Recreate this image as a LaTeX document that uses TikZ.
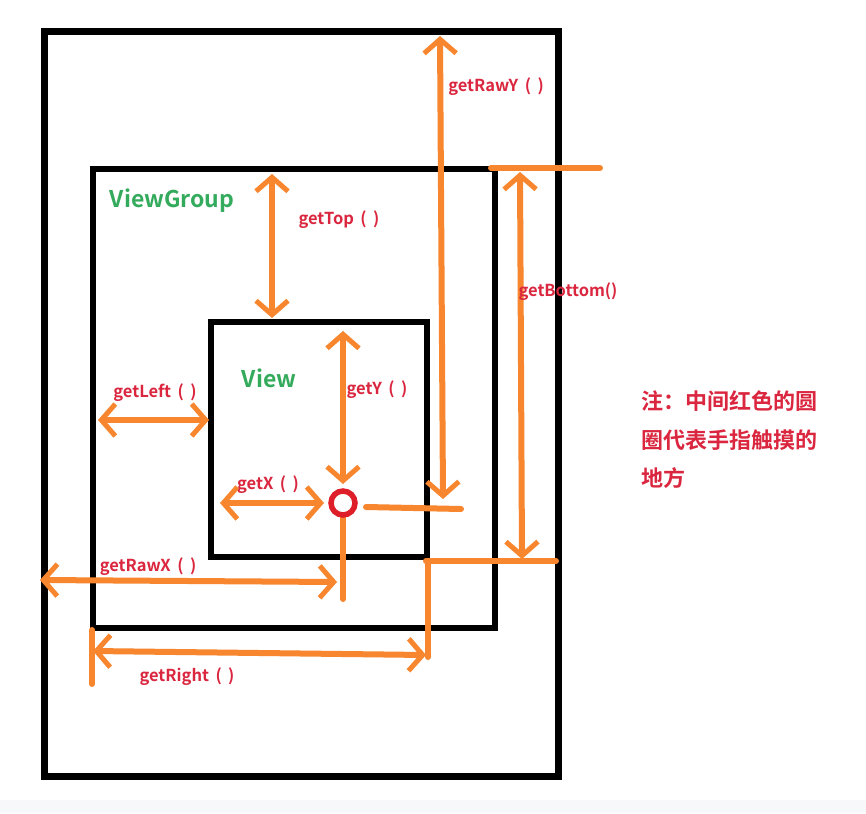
\documentclass[tikz,border=0pt]{standalone}
\usepackage{fontspec}
\setmainfont{Noto Sans CJK SC}[BoldFont={Noto Sans CJK SC Bold}]
\usetikzlibrary{arrows.meta}
\definecolor{org}{RGB}{247,134,46}
\definecolor{lbl}{RGB}{218,38,62}
\definecolor{grn}{RGB}{52,170,92}
\definecolor{band}{RGB}{247,248,250}
\begin{document}
\begin{tikzpicture}[x=1pt,y=-1pt,
  box/.style={draw=black,line width=7pt},
  oline/.style={draw=org,line width=6pt,line cap=round},
  barb/.tip={Straight Barb[length=14pt,width=32pt,line width=5pt]},
  dbl/.style={oline,barb-barb},
  lab/.style={text=lbl,font=\bfseries\fontsize{16.5}{19}\selectfont,inner sep=0pt},
  ttl/.style={text=grn,font=\bfseries\fontsize{23}{26}\selectfont,inner sep=0pt},
  note/.style={text=lbl,font=\bfseries\fontsize{22}{26}\selectfont,inner sep=0pt,anchor=west}]
\useasboundingbox (0,0) rectangle (866,813);
\fill[white] (0,0) rectangle (866,800);
\fill[band] (0,800) rectangle (866,813);
% frames
\draw[box] (44,32) rectangle (558,776);
\draw[box,line width=6.5pt] (93,169) rectangle (495,628);
\draw[box,line width=6.5pt] (211,322) rectangle (427,557);
% coordinates
\coordinate (ryT) at (440,36);
\coordinate (ryB) at (443,499);
\coordinate (ryH1) at (366,507);
\coordinate (ryH2) at (461,509);
\coordinate (bT) at (520,172);
\coordinate (bB) at (522,559);
\coordinate (bH1) at (491,168);
\coordinate (bH2) at (600,168);
\coordinate (bL1) at (426,561);
\coordinate (bL2) at (556,561);
\coordinate (tT) at (272,174);
\coordinate (tB) at (272,318);
\coordinate (lL) at (98,420);
\coordinate (lR) at (209,420);
\coordinate (xL) at (220,503);
\coordinate (xR) at (324,503);
\coordinate (yT) at (343,331);
\coordinate (yB) at (343,484);
\coordinate (rxL) at (40,580);
\coordinate (rxR) at (337,582);
\coordinate (rxV1) at (343,517);
\coordinate (rxV2) at (343,599);
\coordinate (rL) at (93,651);
\coordinate (rR) at (426,655);
\coordinate (rV1) at (428,561);
\coordinate (rV2) at (428,657);
\coordinate (rT1) at (92,630);
\coordinate (rT2) at (92,684);
% orange lines
\draw[dbl] (ryB) -- (ryT);
\draw[oline] (ryH1) -- (ryH2);
\draw[dbl] (bB) -- (bT);
\draw[oline] (bH1) -- (bH2);
\draw[oline] (bL1) -- (bL2);
\draw[dbl] (tT) -- (tB);
\draw[dbl] (lL) -- (lR);
\draw[dbl] (xL) -- (xR);
\draw[dbl] (yT) -- (yB);
\draw[dbl] (rxL) -- (rxR);
\draw[oline] (rxV1) -- (rxV2);
\draw[oline] (rV1) -- (rV2);
\draw[oline] (rT1) -- (rT2);
\draw[dbl] (rL) -- (rR);
% touch point
\node[circle,draw={rgb,255:red,222;green,30;blue,40},line width=5.5pt,minimum size=24pt,inner sep=0pt] (touch) at (343,503) {};
% labels
\node[lab] (lRawY) at (496,87) {getRawY\, (\, )};
\node[lab] (lTop) at (339,220) {getTop\, (\, )};
\node[lab] (lBottom) at (568,292) {getBottom()};
\node[lab] (lLeft) at (155,393) {getLeft\, (\, )};
\node[lab] (lX) at (268,485) {getX\, (\, )};
\node[lab] (lY) at (377,390) {getY\, (\, )};
\node[lab] (lRawX) at (148,567) {getRawX\, (\, )};
\node[lab] (lRight) at (187,677) {getRight\, (\, )};
\node[ttl] (tVG) at (172,201) {ViewGroup};
\node[ttl] (tV) at (269,378) {View};
\node[note] (n1) at (641,401) {注：中间红色的圆};
\node[note] (n2) at (641,440) {圈代表手指触摸的};
\node[note] (n3) at (641,478) {地方};
\end{tikzpicture}
\end{document}
